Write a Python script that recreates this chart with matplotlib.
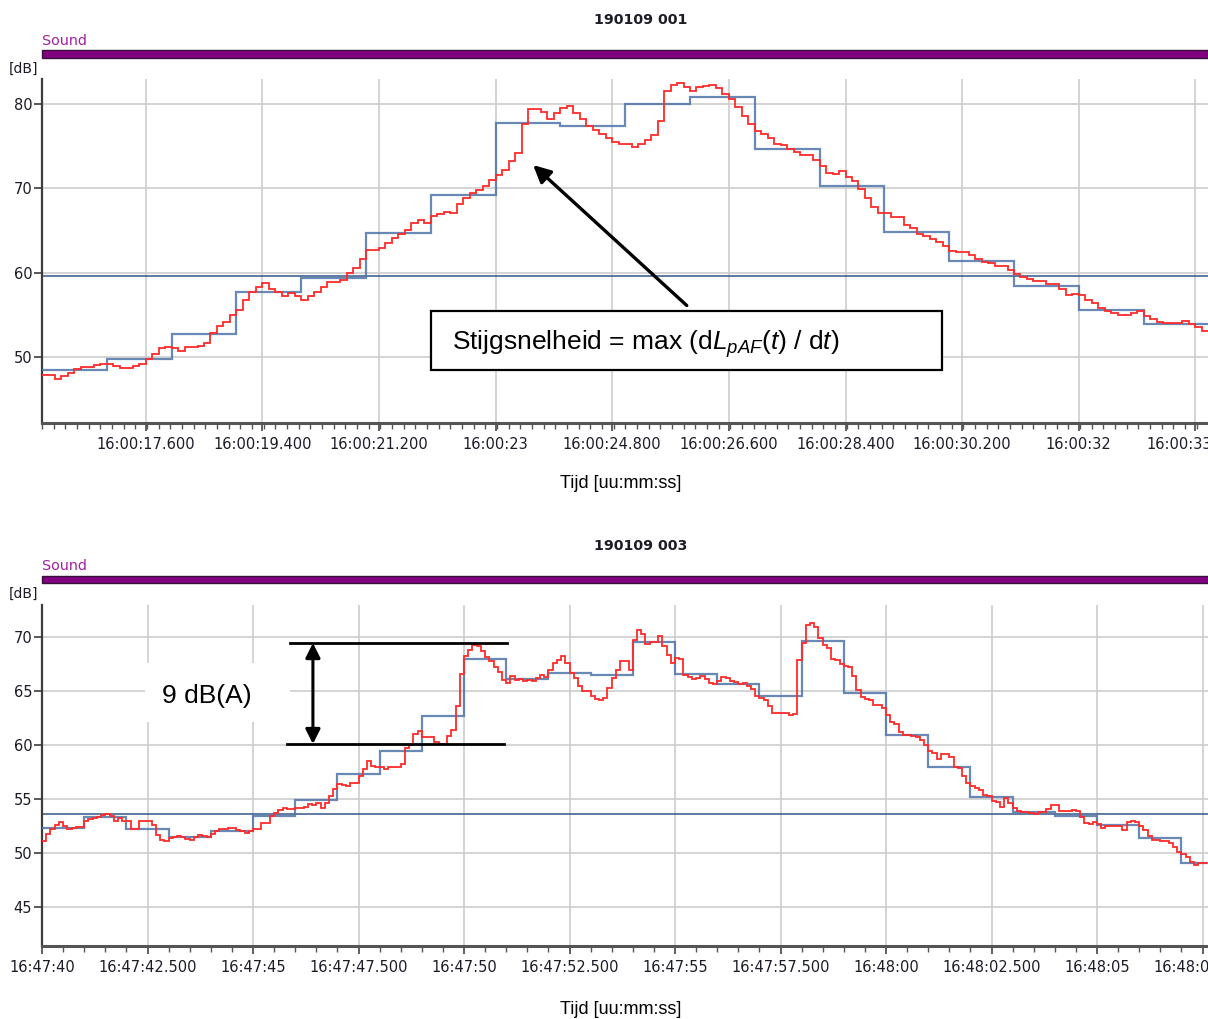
import numpy as np
import matplotlib
matplotlib.use("Agg")
import matplotlib.pyplot as plt
from matplotlib.patches import Rectangle

plt.rcParams["mathtext.fontset"] = "custom"
plt.rcParams["mathtext.rm"] = "Liberation Sans"
plt.rcParams["mathtext.it"] = "Liberation Sans:italic"
plt.rcParams["mathtext.default"] = "it"

# ---------------- data ----------------
# Chart 1: 190109 001, seconds after 16:00:00
top_t0 = 16.0
top_red_step = 0.1
top_red = [47.9, 47.9, 47.4, 47.7, 48.05, 48.6, 48.85, 48.85, 49.0, 49.2,
           49.2, 48.9, 48.7, 48.7, 48.9, 49.2, 49.8, 50.3, 51.0, 51.2,
           51.0, 50.7, 51.2, 51.2, 51.3, 51.6, 52.8, 53.7, 54.1, 55.0,
           55.6, 56.7, 57.7, 58.3, 58.8, 58.1, 57.7, 57.2, 57.6, 57.2,
           56.7, 57.2, 57.7, 58.3, 58.9, 58.9, 59.1, 60.0, 60.5, 61.6,
           62.7, 62.7, 62.9, 63.5, 64.1, 64.6, 65.05, 65.9, 66.2, 65.9,
           66.7, 66.95, 67.2, 67.1, 68.1, 68.9, 69.4, 69.8, 70.3, 71.0,
           71.6, 72.2, 73.2, 74.2, 77.6, 79.4, 79.4, 79.1, 78.2, 78.9,
           79.5, 79.8, 78.9, 78.2, 77.4, 76.9, 76.5, 76.0, 75.5, 75.3,
           75.3, 74.9, 75.3, 75.7, 76.3, 78.0, 81.5, 82.2, 82.5, 82.0,
           81.5, 82.0, 82.1, 82.3, 81.9, 81.2, 80.55, 79.7, 78.6, 77.6,
           76.8, 76.5, 76.0, 75.3, 75.1, 74.7, 74.35, 73.95, 74.0, 73.4,
           72.6, 71.8, 71.7, 72.0, 71.3, 70.9, 69.9, 68.9, 67.8, 67.1,
           67.1, 66.55, 66.55, 65.6, 65.25, 64.6, 64.4, 63.95, 63.6, 63.2,
           62.6, 62.5, 62.5, 62.1, 61.65, 61.25, 61.1, 60.8, 60.8, 60.3,
           59.8, 59.5, 59.25, 59.0, 59.0, 58.6, 58.6, 58.0, 57.35, 57.5,
           57.35, 56.75, 56.35, 55.75, 55.45, 55.25, 55.0, 55.0, 55.2, 55.5,
           54.9, 54.55, 54.15, 54.0, 54.0, 54.0, 54.3, 53.85, 53.6, 53.1]
top_blue_step = 1.0
top_blue = [48.5, 49.7, 52.7, 57.7, 59.4, 64.7, 69.2, 77.7, 77.4, 80.0,
            80.8, 74.7, 70.3, 64.85, 61.35, 58.45, 55.6, 53.95]
top_ref = 59.65
top_xticks = [17.6, 19.4, 21.2, 23.0, 24.8, 26.6, 28.4, 30.2, 32.0, 33.8]
top_yticks = [50, 60, 70, 80]

# Chart 2: 190109 003, seconds after 16:47:00
bot_t0 = 40.0
bot_red_step = 0.1
bot_red = [51.14, 51.8, 52.2, 52.6, 52.84, 52.47, 52.2, 52.3, 52.4, 52.4,
           52.93, 53.15, 53.24, 53.33, 53.55, 53.64, 53.4, 53.0, 53.24, 52.93,
           52.93, 52.2, 52.2, 53.0, 53.0, 53.0, 52.6, 51.7, 51.2, 51.1,
           51.4, 51.5, 51.55, 51.45, 51.3, 51.2, 51.45, 51.7, 51.6, 51.5,
           51.8, 52.0, 52.2, 52.2, 52.3, 52.3, 52.15, 52.0, 51.85, 52.0,
           52.2, 52.2, 52.8, 52.8, 53.4, 53.7, 54.0, 54.17, 54.1, 54.07,
           54.2, 54.17, 54.26, 54.5, 54.4, 54.63, 54.17, 54.63, 55.25, 55.9,
           56.4, 56.3, 56.23, 56.5, 56.5, 57.1, 57.8, 58.5, 58.1, 57.96,
           58.0, 57.8, 57.96, 58.0, 57.96, 58.2, 59.7, 60.03, 61.0, 61.27,
           60.74, 60.74, 60.74, 60.28, 60.1, 60.1, 60.86, 61.4, 63.64, 66.57,
           68.2, 68.77, 69.26, 69.2, 68.67, 68.15, 67.75, 67.2, 66.8, 66.0,
           65.7, 66.36, 66.05, 66.1, 65.9, 66.05, 65.96, 66.2, 66.45, 66.3,
           66.98, 67.6, 67.9, 68.27, 67.6, 66.67, 66.2, 65.43, 65.03, 65.03,
           64.57, 64.3, 64.14, 64.35, 65.28, 66.2, 66.98, 67.75, 67.75, 66.98,
           69.75, 70.68, 70.28, 69.35, 69.5, 69.5, 70.12, 69.14, 68.36, 67.6,
           68.05, 68.0, 66.5, 66.27, 66.1, 66.17, 66.36, 66.1, 65.74, 65.68,
           65.9, 66.3, 66.23, 65.9, 65.8, 65.68, 65.74, 65.5, 65.2, 64.5,
           64.35, 64.2, 63.64, 63.0, 62.96, 62.96, 62.96, 62.8, 62.87, 67.9,
           69.4, 71.14, 71.3, 70.9, 69.9, 69.3, 69.0, 67.96, 67.84, 67.53,
           67.28, 67.2, 66.4, 65.12, 64.44, 64.26, 64.14, 63.73, 63.73, 63.43,
           62.8, 62.1, 61.98, 61.17, 60.96, 60.96, 60.8, 60.7, 60.43, 60.0,
           59.4, 59.3, 58.7, 59.2, 59.2, 58.86, 58.0, 57.87, 57.1, 56.5,
           56.2, 56.0, 55.8, 55.4, 55.25, 54.85, 54.7, 54.3, 55.1, 54.6,
           54.17, 53.86, 53.8, 53.8, 53.7, 53.6, 53.77, 53.77, 54.07, 54.4,
           54.44, 53.86, 53.9, 53.9, 54.0, 53.86, 53.33, 52.78, 52.7, 52.84,
           52.7, 52.3, 52.47, 52.47, 52.47, 52.47, 52.16, 52.84, 53.0, 52.87,
           52.47, 52.1, 51.6, 51.23, 51.23, 51.08, 51.08, 50.9, 50.6, 50.06,
           49.94, 49.63, 49.14, 48.92, 49.07, 49.07]
bot_blue_step = 1.0
bot_blue = [52.3, 53.3, 52.2, 51.45, 52.0, 53.45, 54.9, 57.3, 59.4, 62.7,
            68.0, 66.1, 66.7, 66.5, 69.57, 66.6, 65.65, 64.5, 69.66, 64.8,
            60.96, 58.0, 55.2, 53.77, 53.46, 52.6, 51.36, 49.1]
bot_ref = 53.64
bot_xticks = [40.0, 42.5, 45.0, 47.5, 50.0, 52.5, 55.0, 57.5, 60.0, 62.5, 65.0, 67.5]
bot_yticks = [45, 50, 55, 60, 65, 70]

titles = ["190109 001", "190109 003"]
channel = "Sound"
ylabel = "[dB]"
xlabel = "Tijd [uu:mm:ss]"
top_note = r"Stijgsnelheid = max (d$L_{pAF}(t)$ / d$t$)"
bot_note = "9 dB(A)"
bot_delta_levels = [69.44, 60.09]

# ---------------- styling ----------------
W, H = 1208, 1019
RED = "#ff2a2a"
BLUE = "#4d74a8"
REF = "#2f5285"
GRID = "#cdcdcd"
TXT = "#1c1c28"
PURPLE = "#800080"
SANS = ["DejaVu Sans"]
ARIAL = ["Liberation Sans", "DejaVu Sans"]

fig = plt.figure(figsize=(W / 100, H / 100), dpi=100)
fig.patch.set_facecolor("white")


def fx(px):
    return px / W


def fy(py):
    return 1 - py / H


def hms(base_h, base_m, s):
    s = round(s, 3)
    mins = base_m + int(s // 60)
    sec = s - 60 * int(s // 60)
    whole = int(round(sec, 3) // 1)
    ms = int(round((sec - whole) * 1000))
    lab = f"{base_h}:{mins:02d}:{whole:02d}"
    if ms:
        lab += f".{ms:03d}"
    return lab


def make_panel(ax_rect, t0, red, red_step, blue, blue_step, ref, xticks, xminor,
               yticks, xlim, ylim, base_m, title, title_y, sound_y, bar_y0, bar_y1, db_y, xl_y):
    ax = fig.add_axes(ax_rect)
    red_edges = t0 + red_step * np.arange(len(red) + 1)
    blue_edges = t0 + blue_step * np.arange(len(blue) + 1)
    ax.stairs(blue, blue_edges, color=BLUE, lw=1.6, alpha=0.85, baseline=None, zorder=3)
    ax.stairs(red, red_edges, color=RED, lw=1.3, baseline=None, zorder=4)
    ax.axhline(ref, color=REF, lw=1.2, zorder=2.5, alpha=0.9)
    ax.set_xlim(*xlim)
    ax.set_ylim(*ylim)
    ax.set_xticks(xticks)
    ax.set_xticklabels([hms(16, base_m, s) for s in xticks], fontsize=10.5,
                       color=TXT, family=SANS)
    ax.set_xticks(xminor, minor=True)
    ax.set_yticks(yticks)
    ax.set_yticklabels([str(v) for v in yticks], fontsize=10.5, color=TXT, family=SANS)
    ax.grid(True, which="major", color=GRID, lw=1.2, zorder=0)
    ax.set_axisbelow(True)
    for s in ("top", "right"):
        ax.spines[s].set_visible(False)
    ax.spines["left"].set_color("#3c3c3c")
    ax.spines["left"].set_linewidth(1.6)
    ax.spines["bottom"].set_color("#555555")
    ax.spines["bottom"].set_linewidth(2.2)
    ax.tick_params(axis="y", length=6, width=1.2, color="#3c3c3c", pad=1)
    ax.tick_params(axis="x", which="major", length=6, width=1.2, color="#444444", pad=4)
    ax.tick_params(axis="x", which="minor", length=4, width=1.0, color="#555555")
    # header
    fig.text(fx(641), fy(title_y), title, ha="center", va="center", fontsize=10.3,
             fontweight="bold", color=TXT, family=SANS)
    fig.text(fx(42), fy(sound_y), channel, ha="left", va="center", fontsize=10.3,
             color="#a020a0", family=SANS)
    fig.add_artist(Rectangle((fx(42), fy(bar_y1)), fx(W - 42), (bar_y1 - bar_y0) / H,
                             transform=fig.transFigure, facecolor=PURPLE,
                             edgecolor="#3a103a", lw=1.0))
    fig.text(fx(38), fy(db_y), ylabel, ha="right", va="center", fontsize=10,
             color=TXT, family=SANS)
    fig.text(fx(621), fy(xl_y), xlabel, ha="center", va="center", fontsize=13,
             color="black", family=ARIAL)
    return ax


# top panel: axes 42..1208 px, 79..423 px
top_xlim = (top_t0, top_t0 + (W - 42) / 64.8)
top_minor = np.arange(top_t0, top_xlim[1], 0.18)
ax1 = make_panel([fx(42), fy(423), fx(W - 42), (423 - 79) / H], top_t0, top_red,
                 top_red_step, top_blue, top_blue_step, top_ref, top_xticks, top_minor,
                 top_yticks, top_xlim, (42.16, 82.97), 0, titles[0],
                 20, 41, 50.5, 57.5, 69, 484)

# bottom panel: axes 42..1208 px, 605..946 px
bot_xlim = (bot_t0, bot_t0 + (W - 42) / 42.2)
bot_minor = np.arange(bot_t0, bot_xlim[1], 0.5)
ax2 = make_panel([fx(42), fy(946), fx(W - 42), (946 - 605) / H], bot_t0, bot_red,
                 bot_red_step, bot_blue, bot_blue_step, bot_ref, bot_xticks, bot_minor,
                 bot_yticks, bot_xlim, (41.39, 72.96), 47, titles[1],
                 546, 566, 576, 583, 594, 1009)

# ---- annotation top ----
fig.add_artist(Rectangle((fx(431), fy(370)), fx(511), 59 / H, transform=fig.transFigure,
                         facecolor="white", edgecolor="black", lw=1.6, zorder=10))
fig.text(fx(452), fy(344), top_note, ha="left", va="center", fontsize=19,
         color="black", family=ARIAL, zorder=11)
ax1.annotate("", xy=(23.58, 72.76), xytext=(25.95, 56.1),
             arrowprops=dict(arrowstyle="-|>", lw=2.4, color="black",
                             mutation_scale=26, shrinkA=0, shrinkB=0), zorder=9)

# ---- annotation bottom ----
ax2.add_patch(Rectangle((42.44, 62.13), 3.44, 5.47, facecolor="white", edgecolor="none",
                        zorder=1))
ax2.text(43.91, 64.54, bot_note, ha="center", va="center", fontsize=19, color="black",
         family=ARIAL, zorder=6)
ax2.plot([45.88, 51.02], [bot_delta_levels[0]] * 2, color="black", lw=2.0, zorder=6)
ax2.plot([45.81, 50.95], [bot_delta_levels[1]] * 2, color="black", lw=2.0, zorder=6)
ax2.annotate("", xy=(46.42, bot_delta_levels[0]), xytext=(46.42, bot_delta_levels[1]),
             arrowprops=dict(arrowstyle="<|-|>", lw=2.2, color="black",
                             mutation_scale=22, shrinkA=0, shrinkB=0), zorder=6)

fig.savefig("out.png", dpi=100, facecolor="white")
